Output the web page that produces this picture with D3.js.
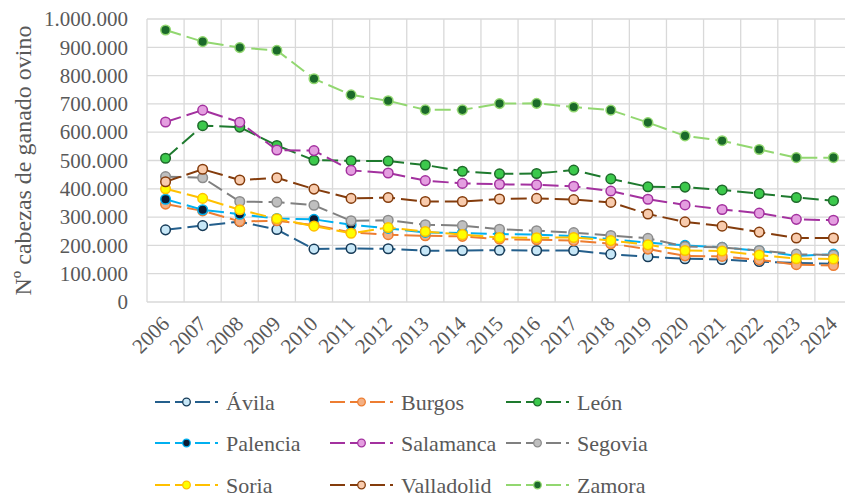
<!DOCTYPE html>
<html>
<head>
<meta charset="utf-8">
<script src="https://cdn.jsdelivr.net/npm/d3@7"></script>
<style>
  body { margin: 0; background: #fff; }
  text { font-family: "Liberation Serif", "Times New Roman", serif; fill: #595959; }
</style>
</head>
<body>
<script>
var years = ["2006","2007","2008","2009","2010","2011","2012","2013","2014","2015","2016","2017","2018","2019","2020","2021","2022","2023","2024"];
var yTicks = [0,100000,200000,300000,400000,500000,600000,700000,800000,900000,1000000];

var avila      = [255000,270000,284000,256000,187000,189000,188000,181000,182000,183000,182000,182000,169000,160000,153000,150000,143000,138000,135000];
var burgos     = [346000,322000,285000,287000,272000,246000,238000,234000,232000,222000,220000,217000,206000,187000,163000,161000,149000,132000,129000];
var leon       = [508000,623000,618000,553000,501000,499000,498000,484000,462000,453000,454000,466000,435000,407000,406000,396000,383000,369000,358000];
var palencia   = [363000,326000,310000,295000,292000,273000,260000,246000,244000,240000,238000,233000,222000,210000,200000,193000,181000,163000,169000];
var salamanca  = [636000,678000,635000,537000,535000,465000,456000,429000,419000,416000,414000,409000,392000,363000,343000,327000,314000,292000,289000];
var segovia    = [443000,439000,355000,353000,342000,287000,289000,273000,270000,257000,252000,245000,235000,225000,196000,193000,182000,169000,166000];
var soria      = [400000,366000,326000,294000,268000,243000,263000,249000,238000,228000,227000,228000,217000,202000,182000,180000,166000,153000,152000];
var valladolid = [425000,469000,431000,439000,399000,366000,369000,355000,355000,364000,366000,362000,352000,311000,283000,268000,247000,226000,226000];
var zamora     = [961000,920000,899000,889000,789000,732000,711000,679000,679000,701000,702000,689000,678000,634000,587000,570000,539000,510000,510000];

var series = [
  {name: "Ávila",      values: avila,      stroke: "#245f8c", fill: "#c7e7f7", mstroke: "#163a57"},
  {name: "Burgos",     values: burgos,     stroke: "#ed7d31", fill: "#f4b083", mstroke: "#ed7d31"},
  {name: "León",       values: leon,       stroke: "#1e7a2e", fill: "#3cc94c", mstroke: "#1e6a2a"},
  {name: "Palencia",   values: palencia,   stroke: "#00b0f0", fill: "#0c1b33", mstroke: "#00b0f0"},
  {name: "Salamanca",  values: salamanca,  stroke: "#a3319f", fill: "#e49ee0", mstroke: "#a3319f"},
  {name: "Segovia",    values: segovia,    stroke: "#808080", fill: "#bfbfbf", mstroke: "#8c8c8c"},
  {name: "Soria",      values: soria,      stroke: "#ffc000", fill: "#ffff00", mstroke: "#ffc000"},
  {name: "Valladolid", values: valladolid, stroke: "#843c0c", fill: "#f8cbad", mstroke: "#843c0c"},
  {name: "Zamora",     values: zamora,     stroke: "#92d770", fill: "#1b6a2a", mstroke: "#92d770"}
];

var W = 845, H = 503;
var pLeft = 147, pRight = 852, pTop = 19, pBottom = 302;

var svg = d3.select("body").append("svg")
    .attr("width", W)
    .attr("height", H);

var x = d3.scaleBand().domain(years).range([pLeft, pRight]).padding(0);
var y = d3.scaleLinear().domain([0, 1000000]).range([pBottom, pTop]);

var fmt = function(v) { return d3.format(",")(v).replace(/,/g, "."); };

// gridlines
var grid = svg.append("g");
grid.selectAll("line.h").data(yTicks).enter().append("line")
    .attr("x1", pLeft).attr("x2", pRight)
    .attr("y1", function(d) { return y(d); }).attr("y2", function(d) { return y(d); })
    .attr("stroke", "#d9d9d9").attr("stroke-width", 1.3);
grid.selectAll("line.v").data(years.concat(["end"])).enter().append("line")
    .attr("x1", function(d, i) { return pLeft + i * x.bandwidth(); })
    .attr("x2", function(d, i) { return pLeft + i * x.bandwidth(); })
    .attr("y1", pTop).attr("y2", pBottom)
    .attr("stroke", "#d9d9d9").attr("stroke-width", 1.3);

// y axis labels
var yAxis = d3.axisLeft(y).tickValues(yTicks).tickFormat(fmt).tickSize(0).tickPadding(19);
var gy = svg.append("g").attr("transform", "translate(" + pLeft + ",0)").call(yAxis);
gy.select(".domain").remove();
gy.selectAll("text").attr("fill", "#595959").style("font-size", "21px");

// x axis labels
var xAxis = d3.axisBottom(x).tickSize(0);
var gx = svg.append("g").attr("transform", "translate(0," + pBottom + ")").call(xAxis);
gx.select(".domain").remove();
gx.selectAll("text")
    .attr("fill", "#595959")
    .style("font-size", "21px")
    .style("text-anchor", "end")
    .attr("y", 0)
    .attr("dy", 0)
    .attr("transform", "translate(5,23) rotate(-45)");

// y title
svg.append("text")
    .attr("transform", "translate(31," + ((pTop + pBottom) / 2) + ") rotate(-90)")
    .attr("text-anchor", "middle")
    .style("font-size", "24px")
    .text("Nº cabezas de ganado ovino");

var line = d3.line()
    .x(function(d, i) { return x(years[i]) + x.bandwidth() / 2; })
    .y(function(d) { return y(d); });

series.forEach(function(s) {
  var g = svg.append("g");
  g.append("path")
      .attr("d", line(s.values))
      .attr("fill", "none")
      .attr("stroke", s.stroke)
      .attr("stroke-width", 2)
      .attr("stroke-dasharray", "16,6");
  g.selectAll("circle").data(s.values).enter().append("circle")
      .attr("cx", function(d, i) { return x(years[i]) + x.bandwidth() / 2; })
      .attr("cy", function(d) { return y(d); })
      .attr("r", 4.8)
      .attr("fill", s.fill)
      .attr("stroke", s.mstroke)
      .attr("stroke-width", 1.5);
});

// legend
var legX = [155, 330, 506], legY = [402, 443, 485];
series.forEach(function(s, i) {
  var lx = legX[i % 3], ly = legY[Math.floor(i / 3)];
  var g = svg.append("g").attr("transform", "translate(" + lx + "," + ly + ")");
  g.append("line")
      .attr("x1", 0).attr("x2", 63).attr("y1", 0).attr("y2", 0)
      .attr("stroke", s.stroke).attr("stroke-width", 2)
      .attr("stroke-dasharray", "15,5");
  g.append("circle")
      .attr("cx", 31.5).attr("cy", 0).attr("r", 3.8)
      .attr("fill", s.fill).attr("stroke", s.mstroke).attr("stroke-width", 1.3);
  g.append("text")
      .attr("x", 71).attr("y", 0).attr("dy", "0.35em")
      .style("font-size", "22px")
      .text(s.name);
});
</script>
</body>
</html>
